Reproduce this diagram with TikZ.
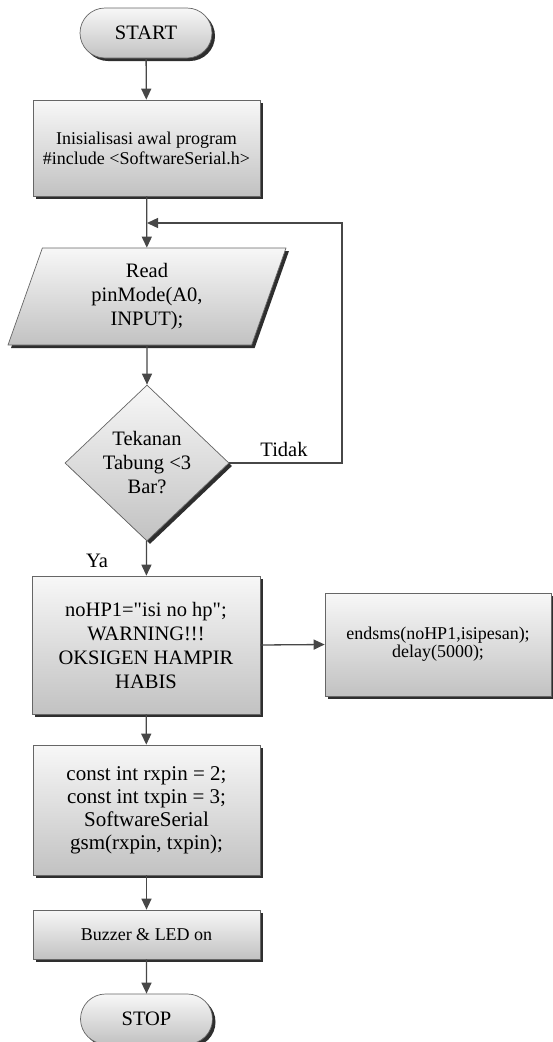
\documentclass[tikz,border=0pt]{standalone}
\usepackage{fontspec}
\setmainfont{Liberation Serif}[Ligatures=TeXOff]
\usetikzlibrary{shapes.geometric,shapes.misc,arrows.meta,shadows}
\begin{document}
\begin{tikzpicture}[x=1pt,y=1pt,
 base/.style={draw=black!60, line width=0.7pt, top color=white!97!black, bottom color=black!24,
   drop shadow={shadow xshift=3pt,shadow yshift=-3pt,fill=black!82,opacity=1},
   align=center, inner sep=0pt, text=black},
 big/.style={font=\fontsize{20.5}{24}\selectfont},
 small/.style={font=\fontsize{18}{20}\selectfont},
 proc/.style={base, rectangle},
 term/.style={base, rounded rectangle, minimum width=132pt, minimum height=50pt},
 flow/.style={draw=black!72, line width=1.3pt, -{Triangle[length=11pt,width=10pt]}},
 lbl/.style={font=\fontsize{20.5}{24}\selectfont, inner sep=0pt}
]
\useasboundingbox (0,0) rectangle (552,-1042);

\node[term,big] (start) at (146,-33) {START};
\node[proc,small,minimum width=227pt,minimum height=96pt] (init) at (146.5,-148)
  {Inisialisasi awal program\\\#include <SoftwareSerial.h>};
\node[base,big,trapezium,trapezium left angle=62.7,trapezium right angle=117.3,
  trapezium stretches body,minimum width=278pt,minimum height=97pt] (read) at (147,-296.5)
  {Read\\pinMode(A0,\\INPUT);};
\node[base,big,diamond,shape aspect=1.05,minimum width=164pt,minimum height=156pt] (dec) at (147,-463)
  {Tekanan\\Tabung <3\\Bar?};
\node[proc,big,minimum width=228pt,minimum height=138pt] (warn) at (146,-645)
  {noHP1="isi no hp";\\WARNING!!!\\OKSIGEN HAMPIR\\HABIS};
\node[proc,font=\fontsize{18}{18}\selectfont,minimum width=226pt,minimum height=103pt] (sms) at (438,-644.5)
  {endsms(noHP1,isipesan);\\delay(5000);};
\node[proc,font=\fontsize{21}{23}\selectfont,minimum width=227pt,minimum height=130pt] (const) at (146.5,-810)
  {const int rxpin = 2;\\const int txpin = 3;\\SoftwareSerial\\gsm(rxpin, txpin);};
\node[proc,small,minimum width=227pt,minimum height=49pt] (buzz) at (146.5,-934.5) {Buzzer \& LED on};
\node[term,big] (stop) at (146.5,-1019) {STOP};

\coordinate (lc) at (342,-223);
\coordinate (jn) at (147,-223);
\node[lbl] (tidak) at (284,-449) {Tidak};
\node[lbl] (ya) at (97,-561) {Ya};

\draw[flow] (start) -- (init);
\draw[flow] (init) -- (read);
\draw[flow] (read) -- (dec);
\draw[flow] (dec.east) -- (dec.east -| lc) -- (lc) -- (jn);
\draw[flow] (dec) -- (warn);
\draw[flow] (warn.east) -- (sms.west);
\draw[flow] (warn) -- (const);
\draw[flow] (const) -- (buzz);
\draw[flow] (buzz) -- (stop);
\end{tikzpicture}
\end{document}
